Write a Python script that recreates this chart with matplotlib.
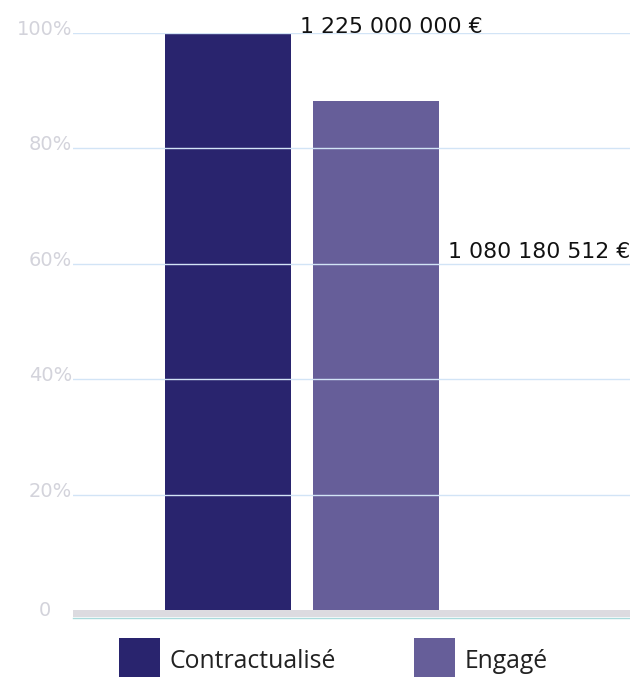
import matplotlib
matplotlib.use("Agg")
import matplotlib.pyplot as plt
from matplotlib.transforms import Affine2D
from matplotlib.patches import Rectangle, Patch
from matplotlib.lines import Line2D

# ---- data ----
categories = ["Contractualisé", "Engagé"]
amounts = [1225000000, 1080180512]
percent = [100.0, 100.0 * 1080180512 / 1225000000]
value_labels = ["1 225 000 000 €", "1 080 180 512 €"]
ytick_values = [0, 20, 40, 60, 80, 100]
ytick_labels = ["0", "20%", "40%", "60%", "80%", "100%"]
colors = ["#29246e", "#665e99"]

# label placement (layout, not data)
label_y = [101.0, 62.0]
label_dx = 0.486

W, H = 630, 677
fig = plt.figure(figsize=(W / 100, H / 100), dpi=100)
px = Affine2D().scale(1 / W, -1 / H).translate(0, 1) + fig.transFigure

ax_left, ax_right, ax_top, ax_bottom = 73, 630, 33, 610
ax = fig.add_axes([ax_left / W, (H - ax_bottom) / H,
                   (ax_right - ax_left) / W, (ax_bottom - ax_top) / H])

xs = list(range(len(categories)))
ax.bar(xs, percent, width=0.851, color=colors, zorder=1)
ax.set_xlim(-1.047, 2.716)
ax.set_ylim(0, 100)

for yv in ytick_values[1:]:
    ax.axhline(yv, color="#d2e4f6", lw=1.0, zorder=3)

for s in ax.spines.values():
    s.set_visible(False)
ax.set_xticks([])
ax.set_yticks([])

# y labels
for yv, lab in zip(ytick_values, ytick_labels):
    if lab == "0":
        ax.annotate(lab, xy=(0, yv), xycoords=("axes fraction", "data"),
                    xytext=(-28, 0), textcoords="offset pixels",
                    ha="center", va="center", fontsize=14, color="#d3d3db")
    else:
        ax.annotate(lab, xy=(0, yv), xycoords=("axes fraction", "data"),
                    xytext=(-1, -2), textcoords="offset pixels",
                    ha="right", va="baseline", fontsize=14, color="#d3d3db")

# value labels
for x, yl, lab in zip(xs, label_y, value_labels):
    ax.text(x + label_dx, yl, lab, ha="left", va="center", fontsize=15.8,
            color="#111111", zorder=5, clip_on=False)

# bottom band and teal line
fig.patches.append(Rectangle((ax_left, 617), ax_right - ax_left, -7,
                             transform=px, facecolor="#dcdbe0",
                             edgecolor="none", zorder=2))
fig.lines.append(Line2D([ax_left, ax_right], [618, 618], transform=px,
                        color="#a9dadb", lw=1.0, zorder=2))

# legend
handles = [Patch(facecolor=c, edgecolor="none") for c in colors]
leg = fig.legend(handles, categories, loc="upper left",
                 bbox_to_anchor=(119 / W, 1 - 638 / H),
                 ncol=2, frameon=False,
                 prop={"family": "Open Sans", "size": 17.8},
                 handlelength=1.66, handleheight=2.35, handletextpad=0.4,
                 columnspacing=3.15, borderpad=0, borderaxespad=0)
for t in leg.get_texts():
    t.set_color("#222222")

fig.savefig("out.png", dpi=100)
